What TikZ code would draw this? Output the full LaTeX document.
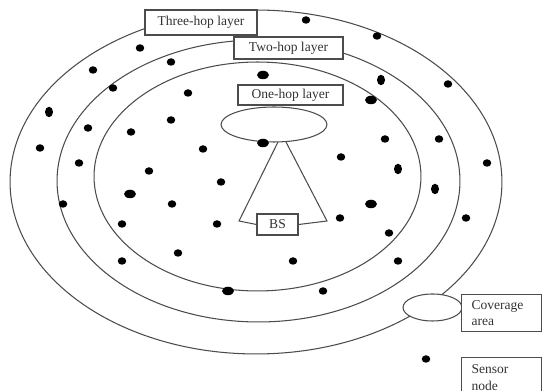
\documentclass[tikz,border=0pt]{standalone}
\usepackage{fontspec}
\setmainfont{Liberation Serif}
\usetikzlibrary{shapes,positioning,shapes.geometric}
\colorlet{linegray}{black!70}

\begin{document}
\begin{tikzpicture}[
    x=0.02cm, y=-0.02cm,
    layer/.style={draw=linegray, line width=0.6pt},
    labelbox/.style={rectangle, draw=linegray, line width=0.6pt, fill=white, text=black!80, font=\fontsize{7.7}{9.3}\selectfont, inner sep=0pt},
    legendbox/.style={labelbox, anchor=north west, minimum width=1.6cm, minimum height=0.74cm, text width=1.2cm, align=left},
    area/.style={ellipse, draw=linegray, line width=0.6pt, fill=white, inner sep=0pt},
    dot/.style={ellipse, fill=black, inner sep=0pt, minimum width=0.17cm, minimum height=0.15cm},
    widedot/.style={dot, minimum width=0.24cm, minimum height=0.17cm},
    talldot/.style={dot, minimum width=0.16cm, minimum height=0.21cm}
]
\useasboundingbox (0,0) rectangle (542,391);

% Layers
\draw[layer] (256,182) ellipse [x radius=4.92cm, y radius=3.44cm];
\draw[layer] (258.5,181) ellipse [x radius=4.03cm, y radius=2.82cm];
\draw[layer] (257.5,176.5) ellipse [x radius=3.27cm, y radius=2.29cm];

% Layer labels
\node[labelbox, minimum width=2.24cm, minimum height=0.5cm] (three) at (201,22.5) {Three-hop layer};
\node[labelbox, minimum width=2.18cm, minimum height=0.44cm] (two) at (288.5,48) {Two-hop layer};
\node[labelbox, minimum width=2.1cm, minimum height=0.4cm] (one) at (290.5,95) {One-hop layer};

% Base station
\node[area, minimum width=2.12cm, minimum height=0.7cm] (bsarea) at (274,124.5) {};
\coordinate (apexl) at (278,142);
\coordinate (apexr) at (286,142);
\coordinate (basel) at (239,221);
\coordinate (baser) at (327,221);
\node[labelbox, minimum width=0.82cm, minimum height=0.42cm] (bs) at (277.5,224.5) {BS};
\draw[layer] (apexl) -- (basel) -- (bs.west);
\draw[layer] (bs.east) -- (baser) -- (apexr);

% Sensor nodes
\foreach \p [count=\i] in {(306,20),(377,36),(140,48),(171,62),(93,70),(113,88),(188,93),
    (448,84),(171,120),(88,128),(131,132),(385,139),(439,139),(203,149),(40,148),
    (341,157),(79,163),(487,163),(149,171),(221,182),(172,204),(340,218),(466,218),
    (122,224),(217,224),(389,233),(178,253),(122,261),(293,261),(398,261),(323,291),(63,204)}
    \node[dot] (s\i) at \p {};
\foreach \p [count=\i] in {(263,75),(371,100),(263,143),(130,194),(371,204),(228,291)}
    \node[widedot] (w\i) at \p {};
\foreach \p [count=\i] in {(381,80),(49,112),(398,169),(435,189)}
    \node[talldot] (t\i) at \p {};

% Legend
\node[area, minimum width=1.18cm, minimum height=0.54cm] (cover) at (432.5,307.5) {};
\node[legendbox] (coverlabel) at (461,294) {Coverage\\area};
\node[dot] (sensor) at (426,359) {};
\node[legendbox, minimum height=0.8cm] (sensorlabel) at (461,357) {Sensor\\node};

\end{tikzpicture}
\end{document}
